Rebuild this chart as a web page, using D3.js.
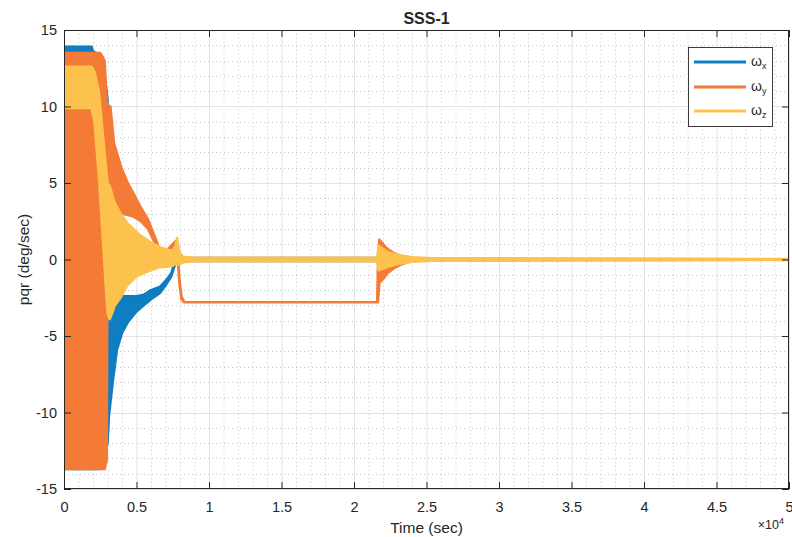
<!DOCTYPE html>
<html><head><meta charset="utf-8">
<script src="https://cdn.jsdelivr.net/npm/d3@7"></script>
<style>
body{margin:0;background:#fff}
svg{display:block}
text{font-family:"Liberation Sans",Arial,Helvetica,sans-serif;fill:#262626}
</style>
</head><body>
<svg id="chart" width="792" height="537"></svg>
<script>
// ---- tick labels ----
const xTickValues = [0,5000,10000,15000,20000,25000,30000,35000,40000,45000,50000];
const xTickLabels = ["0","0.5","1","1.5","2","2.5","3","3.5","4","4.5","5"];
const yTickValues = [-15,-10,-5,0,5,10,15];
const yTickLabels = ["-15","-10","-5","0","5","10","15"];

// ---- series: envelope (low / high) of each signal ----
const seriesNames = ["\u03c9x","\u03c9y","\u03c9z"];
const seriesSubs = ["x","y","z"];

// ωx (blue)
const wxT  = [0,1900,2000,2400,2700,3000,3100,3400,3650,4000,4400,5000,5500,6000,6600,7000,7400,7700,7850,8000,21600,21750,22500,23500,25000,50000];
const wxLo = [-13.7,-13.7,-13.7,-13.7,-13.2,-12,-10.2,-7.7,-5.9,-4.8,-4.1,-3.4,-3.0,-2.6,-2.2,-1.7,-1.1,-0.2,0.5,-0.1,-0.1,-0.5,-0.3,-0.1,-0.03,-0.02];
const wxHi = [13.9,13.9,13.6,13.4,12.8,10.5,-2.3,-2.2,-2.3,-2.4,-2.4,-2.4,-2.3,-2.0,-1.8,-1.4,-0.9,0.1,0.9,0.1,0.1,0.5,0.3,0.1,0.03,0.02];

// ωy (orange)
const wyT  = [0,2500,2800,2950,3000,3200,3450,3950,4400,4800,5300,5800,6300,6700,7000,7400,7700,7850,7950,8100,8300,21600,21650,21750,22000,22300,22700,23200,23800,25000,50000];
const wyLo = [-13.7,-13.7,-13.7,-13.1,1.5,2.0,2.5,3.0,2.9,2.8,2.5,2.0,1.0,0.1,0.2,0.6,0.9,0.0,-1.5,-2.6,-2.8,-2.8,-2.8,-1.5,-1.3,-0.9,-0.6,-0.35,-0.15,-0.04,-0.02];
const wyHi = [13.5,13.5,13.0,10.2,10.1,10.0,7.6,6.0,5.0,4.3,3.4,2.6,1.4,0.4,0.5,0.9,1.2,0.4,-1.2,-2.4,-2.8,-2.8,-0.5,1.3,1.0,0.7,0.45,0.25,0.12,0.04,0.02];

// ωz (yellow)
const wzT  = [0,1900,2100,2400,2700,3000,3150,3400,3500,3900,4350,5000,5240,5700,6000,6620,7300,7500,7700,7800,7950,8200,9000,21600,21700,22300,23000,24000,26000,50000];
const wzLo = [9.9,9.9,9.0,5.5,1.0,-3.5,-3.9,-3.3,-3.0,-2.5,-1.7,-1.1,-1.0,-0.8,-0.7,-0.5,-0.45,-0.4,-0.3,-0.2,-0.35,-0.18,-0.12,-0.12,-0.7,-0.5,-0.3,-0.15,-0.05,-0.03];
const wzHi = [12.6,12.6,12.3,11.0,8.0,5.0,4.8,4.0,3.7,3.0,2.4,1.8,1.6,1.3,1.1,0.8,0.6,0.6,0.9,1.4,0.5,0.18,0.12,0.12,0.9,0.5,0.3,0.15,0.05,0.03];

const colors = ["#0E7DC2","#F47B36","#FDC24D"];

// ---- layout ----
const L = 64, R = 789, T = 30, B = 489;
const svg = d3.select("#chart");
const x = d3.scaleLinear().domain([0,50000]).range([L,R]);
const y = d3.scaleLinear().domain([-15,15]).range([B,T]);

svg.append("rect").attr("x",0).attr("y",0).attr("width",792).attr("height",537).attr("fill","#fff");
svg.append("rect").attr("x",L).attr("y",T).attr("width",R-L).attr("height",B-T).attr("fill","#fff");

// grid
const g = svg.append("g");
const xMinor = d3.range(0,50001,1000).filter(v=>v%5000!==0);
const yMinor = d3.range(-15,15.01,1).filter(v=>Math.abs(v)%5!==0);
g.selectAll(".xm").data(xMinor).join("line")
  .attr("x1",d=>x(d)+0.5).attr("x2",d=>x(d)+0.5).attr("y1",T).attr("y2",B)
  .attr("stroke","#c6c6c6").attr("stroke-width",1).attr("stroke-dasharray","1,3");
g.selectAll(".ym").data(yMinor).join("line")
  .attr("y1",d=>Math.round(y(d))+0.5).attr("y2",d=>Math.round(y(d))+0.5).attr("x1",L).attr("x2",R)
  .attr("stroke","#c6c6c6").attr("stroke-width",1).attr("stroke-dasharray","1,3");
g.selectAll(".xM").data(xTickValues).join("line")
  .attr("x1",d=>x(d)+0.5).attr("x2",d=>x(d)+0.5).attr("y1",T).attr("y2",B)
  .attr("stroke","#e2e2e2").attr("stroke-width",1);
g.selectAll(".yM").data(yTickValues).join("line")
  .attr("y1",d=>Math.round(y(d))+0.5).attr("y2",d=>Math.round(y(d))+0.5).attr("x1",L).attr("x2",R)
  .attr("stroke","#e2e2e2").attr("stroke-width",1);

// clip
svg.append("defs").append("clipPath").attr("id","clip")
  .append("rect").attr("x",L).attr("y",T).attr("width",R-L).attr("height",B-T);

// series
const area = d3.area().x(d=>x(d.t)).y0(d=>y(d.lo)).y1(d=>y(d.hi));
const series = [
  wxT.map((t,i)=>({t,lo:wxLo[i],hi:wxHi[i]})),
  wyT.map((t,i)=>({t,lo:wyLo[i],hi:wyHi[i]})),
  wzT.map((t,i)=>({t,lo:wzLo[i],hi:wzHi[i]}))
];
const plot = svg.append("g").attr("clip-path","url(#clip)");
series.forEach((s,i)=>{
  plot.append("path").datum(s).attr("d",area)
    .attr("fill",colors[i]).attr("stroke",colors[i])
    .attr("stroke-width",2.5).attr("stroke-linejoin","round");
});

// axes
const axCol = "#262626";
const ax = svg.append("g");
const axBottom = ax.append("g").attr("transform",`translate(0,${B})`)
  .call(d3.axisBottom(x).tickValues(xTickValues).tickFormat((d,i)=>xTickLabels[i]).tickSizeInner(-7).tickSizeOuter(0).tickPadding(13));
const axTop = ax.append("g").attr("transform",`translate(0,${T})`)
  .call(d3.axisTop(x).tickValues(xTickValues).tickFormat("").tickSizeInner(-7).tickSizeOuter(0));
const axLeft = ax.append("g").attr("transform",`translate(${L},0)`)
  .call(d3.axisLeft(y).tickValues(yTickValues).tickFormat((d,i)=>yTickLabels[i]).tickSizeInner(-7).tickSizeOuter(0).tickPadding(7));
const axRight = ax.append("g").attr("transform",`translate(${R},0)`)
  .call(d3.axisRight(y).tickValues(yTickValues).tickFormat("").tickSizeInner(-7).tickSizeOuter(0));
[axBottom,axTop,axLeft,axRight].forEach(a=>{
  a.select(".domain").remove();
  a.selectAll("line").attr("stroke",axCol);
  a.selectAll("text").attr("font-size",14.5).attr("fill",axCol)
    .style("font-family",'"Liberation Sans",Arial,sans-serif');
});
// keep the last x tick label inside the page
axBottom.selectAll(".tick text").filter(d=>d===50000).attr("text-anchor","end").attr("dx",4);
ax.append("rect").attr("x",L+0.5).attr("y",T+0.5).attr("width",R-L-1).attr("height",B-T-1)
  .attr("fill","none").attr("stroke",axCol).attr("stroke-width",1);

// exponent label
const ex = svg.append("text").attr("x",784).attr("y",529).attr("text-anchor","end").attr("font-size",12.5);
ex.append("tspan").text("\u00d710");
ex.append("tspan").attr("font-size",9).attr("dy",-5).text("4");

// title & labels
svg.append("text").attr("x",(L+R)/2).attr("y",24).attr("text-anchor","middle")
  .attr("font-size",16).attr("font-weight","bold").attr("fill","#000").text("SSS-1");
svg.append("text").attr("x",(L+R)/2).attr("y",533).attr("text-anchor","middle")
  .attr("font-size",15.5).text("Time (sec)");
svg.append("text").attr("transform",`translate(29,${(T+B)/2}) rotate(-90)`).attr("text-anchor","middle")
  .attr("font-size",15.5).text("pqr (deg/sec)");

// legend
const lg = svg.append("g");
lg.append("rect").attr("x",688.5).attr("y",47.5).attr("width",84).attr("height",79)
  .attr("fill","#fff").attr("stroke","#3a3a3a").attr("stroke-width",1);
const legY = [62,87,111];
seriesNames.forEach((n,i)=>{
  lg.append("line").attr("x1",694).attr("x2",746).attr("y1",legY[i]).attr("y2",legY[i])
    .attr("stroke",colors[i]).attr("stroke-width",3);
  const t = lg.append("text").attr("x",751).attr("y",legY[i]+4).attr("font-size",14);
  t.append("tspan").text("\u03c9");
  t.append("tspan").attr("font-size",9).attr("dy",3).text(seriesSubs[i]);
});
</script>
</body></html>
